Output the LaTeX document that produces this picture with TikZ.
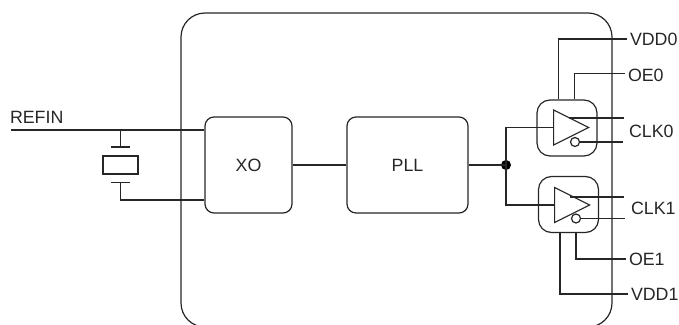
\documentclass[tikz,border=0pt]{standalone}
\usepackage{fontspec}
\setmainfont{Liberation Sans}
\usetikzlibrary{shapes.geometric}
\tikzset{
  wire/.style = {line width=1.2pt, color=black!85},
  block/.style = {draw=black!85, line width=1.2pt, rounded corners=9pt, inner sep=0pt, font=\fontsize{17.8}{20}\selectfont, text=black!85},
  bufbox/.style = {draw=black!85, line width=1.2pt, rounded corners=13pt, inner sep=0pt, minimum width=60pt, minimum height=56pt},
  buf/.style = {draw=black!85, line width=1.2pt, isosceles triangle, isosceles triangle stretches, shape border rotate=0, inner sep=0pt, minimum width=35pt, minimum height=35pt, anchor=lower side},
  bubble/.style = {draw=black!85, line width=1.2pt, circle, fill=white, inner sep=0pt, minimum size=9pt},
  pin/.style = {font=\fontsize{17.8}{20}\selectfont, text=black!85, inner sep=0pt, outer xsep=3pt, anchor=west}
}
\begin{document}
\begin{tikzpicture}[x=1pt,y=-1pt]
  \useasboundingbox (0,0) rectangle (679,324);
  \clip (0,0) rectangle (679,324);
  % package outline
  \node[draw=black!85, line width=1.2pt, rounded corners=24pt, inner sep=0pt, minimum width=431pt, minimum height=314pt] (chip) at (396.5,170) {};
  \node[block, minimum width=87pt, minimum height=96pt] (xo) at (248.5,165) {XO};
  \node[block, minimum width=121pt, minimum height=96pt] (pll) at (407.5,165) {PLL};
  \node[bufbox] (box0) at (567,128) {};
  \node[bufbox] (box1) at (568.5,204.5) {};
  \node[buf] (buf0) at (553,127.5) {};
  \node[buf] (buf1) at (554,205) {};
  \node[bubble] (neg0) at (575,142) {};
  \node[bubble] (neg1) at (576,218.5) {};
  \fill[black] (506,165) circle (5pt) coordinate (tap);
  % pins
  \node[pin] (vdd0) at (627,39) {VDD0};
  \node[pin] (oe0) at (625,75) {OE0};
  \node[pin] (clk0) at (626,131.5) {CLK0};
  \node[pin] (clk1) at (628,208) {CLK1};
  \node[pin] (oe1) at (626,259) {OE1};
  \node[pin] (vdd1) at (628,294) {VDD1};
  \node[pin, outer xsep=0pt] (refin) at (10,117.5) {REFIN};
  % crystal
  \node[draw=black!85, line width=1.2pt, minimum width=35pt, minimum height=18pt, inner sep=0pt] (xtal) at (120.5,165) {};
  \coordinate (plateT) at (120.5,147);
  \coordinate (plateB) at (120.5,182.5);
  \draw[wire] (111,147) -- (130,147);
  \draw[wire] (111,182.5) -- (130,182.5);
  \draw[wire] (11,130) -- (xo.west |- 0,130);
  \draw[wire] (plateT) -- (plateT |- 0,130);
  \draw[wire] (plateB) |- (xo.west |- 0,200);
  % clock path
  \draw[wire] (xo) -- (pll);
  \draw[wire] (pll) -- (tap);
  \draw[wire] (tap) |- (buf0.lower side);
  \draw[wire] (tap) |- (buf1.lower side);
  % outputs
  \foreach \Y/\X in {118/568.5,197/570} {
    \coordinate (out) at (\X,\Y);
    \draw[wire] (out) -- (624,\Y);
  }
  \draw[wire] (neg0) -- (623,142);
  \draw[wire] (neg1) -- (625,218.5);
  % supplies
  \draw[wire] (box0.north -| 558.5,0) |- (vdd0);
  \draw[wire] (box0.north -| 574.5,0) |- (oe0.west |- 0,73.5);
  \draw[wire] (box1.south -| 560,0) |- (vdd1);
  \draw[wire] (box1.south -| 576,0) |- (oe1);
\end{tikzpicture}
\end{document}
